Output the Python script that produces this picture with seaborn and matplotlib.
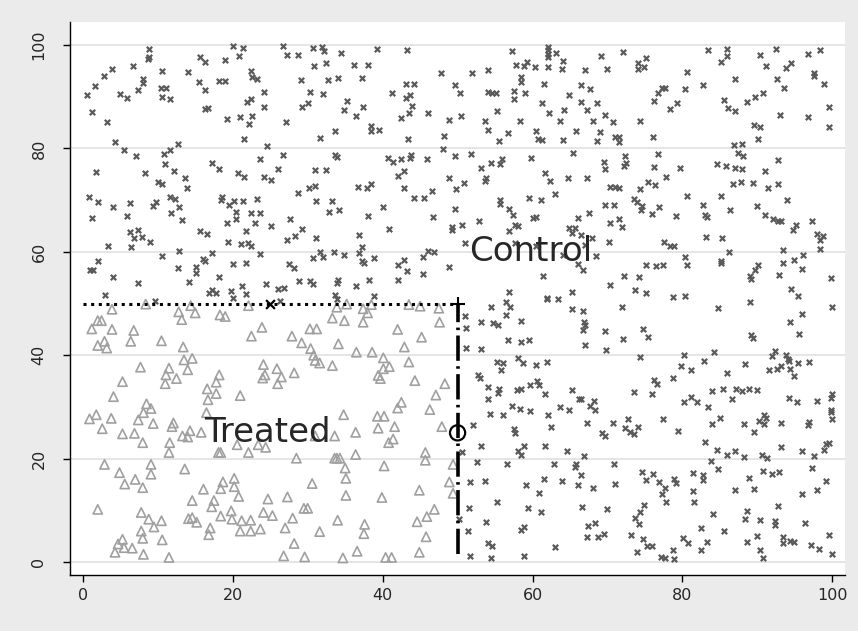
import pandas as pd
import matplotlib
matplotlib.use("Agg")
import matplotlib.pyplot as plt
import seaborn as sns

# control units (x markers)
control_pts = [
    (8.8,99.2),(8.9,97.7),(8.7,97.3),(20.1,99.8),(21.4,99.4),(20.8,97.9),(15.7,97.7),(16.3,96.8),(19.0,97.2),(3.9,95.4),
    (6.7,95.9),(2.8,94.0),(10.6,95.0),(14.1,94.7),(22.4,95.0),(22.6,93.9),(23.3,93.4),(1.6,92.0),(0.6,90.4),(8.1,93.4),
    (8.0,92.6),(7.4,91.3),(5.0,90.6),(5.9,89.7),(10.5,91.6),(11.1,91.7),(10.6,90.0),(11.7,89.6),(15.5,92.8),(16.3,91.3),
    (18.2,93.0),(19.0,93.0),(24.2,90.9),(22.5,89.6),(21.9,88.9),(24.2,88.1),(1.2,87.1),(3.2,85.2),(16.3,87.6),(16.7,87.9),
    (19.2,85.6),(21.0,86.0),(22.6,86.3),(22.2,84.7),(21.5,81.8),(4.3,81.2),(5.5,79.7),(7.1,78.5),(10.8,79.0),(11.7,79.7),
    (12.7,80.8),(24.6,80.5),(23.6,77.9),(1.7,75.4),(8.3,75.2),(11.0,77.0),(12.2,75.7),(17.3,77.1),(18.2,76.1),(20.7,75.2),
    (21.5,74.5),(24.2,74.4),(10.0,73.6),(10.6,73.1),(13.7,74.3),(13.9,72.3),(0.8,70.6),(2.1,69.6),(4.1,68.7),(6.3,69.4),
    (9.4,68.9),(9.8,69.6),(11.6,70.7),(12.3,70.3),(12.8,68.7),(11.8,67.6),(18.6,70.7),(18.5,70.0),(19.5,69.0),(20.2,69.8),
    (21.4,69.9),(23.3,70.3),(20.4,67.8),(22.4,67.6),(23.6,67.6),
    (26.7,99.8),(27.3,98.0),(28.7,98.0),(30.7,99.4),(31.9,99.7),(32.2,98.8),(34.5,98.5),(39.3,99.2),(43.2,99.0),(30.8,96.0),
    (32.4,96.6),(36.2,96.2),(38.1,96.2),(47.8,94.5),(29.1,93.2),(32.7,93.2),(34.0,93.6),(37.3,93.7),(43.1,92.4),(44.2,92.4),
    (49.6,92.2),(30.3,90.9),(32.0,90.5),(41.2,90.8),(43.6,90.3),(43.1,89.8),(29.2,88.1),(30.0,88.8),(35.2,89.1),(34.9,87.4),
    (37.4,88.0),(43.9,88.2),(43.5,86.8),(42.5,85.8),(46.1,86.8),(36.5,86.2),(48.8,85.5),(27.1,85.1),(38.5,84.4),(38.5,83.3),
    (39.5,83.6),(33.6,83.3),(31.7,82.1),(43.4,81.9),(48.2,82.4),(48.1,79.8),(26.7,78.7),(33.6,78.8),(33.9,78.4),(40.7,78.1),
    (41.4,77.3),(42.5,77.9),(43.6,78.2),(43.8,78.7),(45.9,77.9),(49.7,78.5),(26.0,76.1),(25.1,73.9),(31.0,75.8),(32.5,75.8),
    (42.8,75.6),(42.1,74.7),(48.8,74.2),(30.2,72.4),(31.0,72.7),(28.7,71.4),(36.7,72.6),(37.9,72.4),(38.5,73.2),(42.9,72.3),
    (44.2,70.5),(45.5,70.5),(46.6,71.8),(49.8,72.1),(31.1,69.9),(33.2,69.9),(32.9,67.8),(34.2,68.1),(40.0,68.7),(49.6,68.3),
    (57.3,98.9),(62.0,99.7),(62.0,99.0),(62.0,98.3),(62.0,97.7),(63.1,98.5),(69.1,97.9),(72.1,98.7),(75.1,97.5),(57.8,96.1),
    (58.8,95.9),(59.3,96.7),(60.3,95.8),(62.0,95.8),(64.0,96.9),(63.9,95.3),(67.0,95.2),(70.0,95.4),(74.1,96.5),(74.1,95.4),
    (74.9,95.7),(51.9,94.5),(54.1,95.2),(58.4,93.9),(58.4,92.8),(50.3,90.8),(54.1,91.0),(54.6,90.8),(55.1,90.8),(57.5,91.2),
    (57.5,89.6),(59.0,90.8),(61.5,92.4),(66.5,92.3),(67.7,91.4),(64.8,90.3),(61.2,88.8),(66.4,88.9),(68.6,88.8),(67.3,87.4),
    (69.7,86.5),(70.8,85.2),(74.3,85.4),(50.5,86.3),(53.6,85.4),(55.3,87.2),(58.3,85.4),(62.2,86.8),(64.2,87.4),(63.7,85.4),
    (68.1,85.4),(54.1,83.6),(56.7,82.9),(55.5,81.5),(60.5,83.4),(60.7,81.8),(61.2,81.7),(64.0,81.7),(65.8,83.4),(69.0,83.2),
    (68.6,81.5),(71.0,82.3),(71.6,82.3),(71.5,81.3),(51.8,79.0),(65.4,79.2),(72.3,78.5),(55.9,77.9),(55.6,77.0),(54.5,77.2),
    (53.1,76.3),(59.8,78.1),(69.5,77.3),(69.7,76.1),(72.5,77.2),(72.2,76.6),(61.6,75.2),(62.3,73.7),(64.7,74.2),(67.2,74.3),
    (53.8,74.3),(53.7,73.7),(50.8,73.4),(70.4,72.6),(71.0,72.6),(71.6,72.4),(74.4,72.1),(75.4,73.6),(55.6,70.1),(55.7,69.2),
    (59.5,70.5),(61.1,70.0),(63.0,71.2),(56.9,68.2),(69.7,69.0),(70.9,69.0),(73.6,70.2),(73.9,69.7),(74.6,68.9),(74.5,68.1),
    (67.5,67.6),
    (83.4,99.0),(85.9,99.2),(86.0,97.9),(85.2,96.7),(90.3,98.1),(92.5,99.3),(96.8,98.3),(98.3,99.0),(91.1,95.9),(93.8,95.6),
    (94.5,96.6),(80.6,94.8),(97.5,94.5),(97.5,94.0),(98.9,92.5),(87.0,93.4),(92.6,93.4),(93.6,91.7),(82.7,92.3),(80.3,91.5),
    (76.7,90.8),(77.3,91.7),(77.7,91.7),(76.2,89.1),(79.3,88.8),(78.4,87.6),(85.6,89.3),(86.1,87.8),(87.0,87.2),(88.6,89.0),
    (89.7,90.0),(90.7,90.8),(93.0,86.5),(96.7,86.1),(99.6,88.1),(99.6,84.1),(89.5,84.5),(90.4,84.2),(90.1,81.8),(76.1,82.3),
    (86.9,80.6),(88.0,80.8),(76.7,78.9),(87.4,79.2),(88.1,78.5),(92.7,77.7),(76.2,76.4),(79.7,76.2),(84.6,76.9),(85.8,76.7),
    (87.0,76.3),(88.0,76.1),(91.0,75.6),(76.4,73.0),(77.8,74.4),(86.8,73.1),(87.8,73.5),(89.4,73.4),(91.4,72.4),(92.7,73.2),
    (80.6,70.8),(85.1,70.8),(93.9,70.0),(76.9,68.7),(82.8,69.0),(86.4,68.1),(90.0,68.9),(75.9,67.3),(83.0,67.2),(91.0,67.2),
    (1.2,66.6),(5.9,67.0),(13.3,66.2),(19.2,65.6),(20.4,66.4),(23.0,65.6),(6.3,63.8),(7.4,64.3),(6.9,62.6),(7.9,62.8),
    (9.0,61.9),(6.4,60.9),(3.4,61.2),(15.7,64.1),(16.6,63.4),(19.4,62.0),(21.1,61.6),(22.0,61.8),(22.5,61.1),(21.8,64.1),
    (10.6,59.2),(12.8,60.1),(17.2,59.8),(16.1,58.7),(16.3,58.3),(20.1,57.7),(21.8,57.8),(23.6,59.6),(2.1,58.3),(0.9,56.5),
    (1.4,56.5),(4.1,55.1),(7.4,54.0),(12.7,56.9),(15.1,57.1),(15.1,56.0),(18.2,55.1),(14.2,54.2),(21.2,53.4),(24.4,53.8),
    (3.0,51.6),(17.2,52.7),(16.9,52.0),(17.8,52.1),(19.8,52.4),(20.0,51.1),(21.8,51.8),(9.7,50.5),
    (27.6,66.4),(38.0,66.9),(46.7,66.7),(25.1,65.0),(29.2,64.5),(28.3,63.0),(27.2,62.2),(31.1,62.6),(36.8,63.2),(37.3,61.0),
    (40.9,64.5),(49.2,64.8),(49.2,64.3),(30.7,58.9),(31.6,59.9),(32.1,59.1),(33.5,60.0),(34.8,59.4),(36.8,59.7),(37.2,58.2),
    (37.5,57.8),(38.8,58.9),(42.8,58.5),(42.0,57.4),(43.3,56.3),(45.4,59.1),(46.0,60.2),(46.8,59.9),(45.4,55.8),(48.8,57.1),
    (27.5,57.6),(28.2,56.9),(28.9,54.4),(30.3,54.4),(30.7,53.8),(34.0,54.5),(33.9,54.0),(36.4,53.4),(38.2,54.6),(42.0,54.6),
    (26.1,52.9),(26.9,53.0),(33.6,51.6),(33.9,50.8),(38.9,51.4),(26.3,50.4),
    (57.4,67.1),(60.1,66.5),(60.5,66.7),(66.0,66.5),(71.5,66.4),(70.4,65.6),(72.0,64.8),(50.6,65.1),(52.9,65.9),(56.9,64.0),
    (57.7,65.2),(58.0,65.0),(64.8,64.6),(65.7,64.6),(65.3,63.7),(66.5,63.3),(51.0,61.8),(57.6,61.8),(60.4,61.2),(67.0,61.4),
    (67.9,62.7),(70.2,61.9),(64.0,59.3),(68.4,59.2),(66.1,57.7),(66.7,56.4),(61.4,55.3),(75.1,57.4),(72.2,55.4),(74.2,55.1),
    (70.4,53.5),(73.7,52.6),(75.2,52.0),(56.9,52.2),(65.3,52.2),(61.9,51.1),(61.9,50.8),(63.4,50.8),(56.4,50.3),(57.0,49.3),
    (54.4,49.3),(56.4,47.8),(65.2,48.9),(66.7,48.5),(71.9,49.3),(51.0,47.5),(51.1,45.3),(53.1,46.4),(54.7,46.2),(55.4,45.8),
    (58.5,46.6),(66.8,46.5),(67.0,45.8),(66.7,44.9),(69.7,44.6),(74.8,45.1),(75.4,43.6),(56.7,43.0),(58.4,42.5),(59.5,42.9),
    (72.1,43.1),(51.1,41.4),(53.1,41.3),(67.0,42.0),(69.8,41.1),(74.4,39.6),(55.2,38.7),(56.0,38.5),(55.8,37.1),(58.0,39.5),
    (58.7,38.5),(60.5,38.2),(61.9,38.7),(52.7,36.2),(53.0,35.6),(60.6,35.1),(60.8,34.3),(59.7,34.2),
    (79.1,66.9),(83.3,66.8),(92.1,66.4),(92.8,66.0),(93.1,66.0),(94.8,64.3),(95.2,65.2),(97.3,66.0),(97.9,63.5),(98.8,63.1),
    (98.3,62.2),(98.3,60.5),(77.5,62.0),(78.3,61.1),(78.9,61.1),(83.2,62.8),(85.3,62.6),(86.2,60.0),(80.4,59.1),(80.6,57.5),
    (85.1,58.3),(85.1,57.9),(76.5,57.2),(77.4,57.5),(93.4,60.3),(93.4,57.8),(94.9,58.5),(96.1,59.4),(95.9,56.6),(92.9,55.5),
    (90.1,57.4),(89.7,56.4),(89.0,55.4),(89.2,54.7),(99.8,54.9),(94.5,52.9),(95.4,51.4),(95.9,48.0),(99.9,49.3),(78.8,51.2),
    (80.4,51.4),(89.0,50.3),(84.7,49.1),(94.3,46.4),(95.5,44.2),(89.2,44.0),(89.4,43.4),(80.2,40.1),(84.2,40.6),(82.9,38.9),
    (79.8,37.9),(81.2,37.1),(88.3,38.3),(85.9,36.5),(92.3,40.8),(91.9,39.8),(93.8,40.1),(94.1,39.3),(94.2,38.8),(95.4,38.5),
    (96.9,38.7),(93.1,37.9),(92.6,37.3),(91.6,37.1),(94.3,37.4),(94.9,35.9),(78.7,35.7),(76.2,35.3),(76.6,34.4),
    (54.1,33.8),(55.5,33.5),(55.4,32.8),(57.9,33.3),(58.4,33.5),(61.7,32.6),(65.2,33.3),(54.1,31.5),(66.2,31.6),(66.5,31.5),
    (68.2,31.2),(67.7,30.2),(68.3,29.4),(73.5,32.9),(57.2,30.2),(58.3,29.6),(59.7,29.3),(63.6,29.9),(64.8,29.5),(54.3,28.6),
    (56.0,28.5),(62.0,28.4),(52.1,26.5),(57.5,25.8),(57.6,24.9),(62.4,26.2),(67.2,26.9),(70.7,26.9),(72.8,27.7),(72.4,25.9),
    (73.0,25.2),(73.5,24.8),(74.1,26.2),(69.3,24.9),(69.7,24.4),(53.1,22.5),(50.6,21.2),(58.1,21.5),(58.4,20.8),(58.9,22.4),
    (61.6,22.4),(64.6,21.4),(66.9,20.5),(52.6,19.3),(56.6,18.9),(62.9,18.9),(65.8,18.9),(65.7,18.4),(70.9,18.9),(74.6,17.5),
    (75.1,15.9),(66.5,16.8),(66.0,14.9),(68.1,14.4),(71.0,15.1),(51.7,15.5),(53.7,15.6),(59.1,15.0),(61.5,16.1),(63.9,15.7),
    (60.9,13.3),(55.2,11.7),(51.5,10.4),(59.4,10.4),(61.1,9.7),(66.6,10.7),(69.9,10.2),(74.9,11.1),(74.4,9.6),(73.7,8.6),
    (74.2,7.3),(50.2,8.3),(53.8,7.7),(51.4,6.0),(58.5,6.3),(58.9,6.7),(67.4,7.0),(68.3,7.5),(67.2,4.8),(68.7,4.8),
    (69.6,5.5),(73.1,5.3),(74.8,4.4),(75.3,3.1),(54.0,3.6),(54.6,3.1),(63.0,3.0),(74.0,2.0),(51.6,1.1),(54.5,0.7),(58.8,1.2),
    (85.4,33.5),(87.1,33.5),(87.9,33.1),(88.9,33.5),(90.0,33.3),(83.9,33.0),(76.0,32.6),(80.2,30.9),(81.2,32.0),(82.0,30.9),
    (83.4,29.9),(86.6,31.5),(94.2,31.8),(95.3,30.9),(98.0,31.1),(99.8,31.7),(100.0,32.6),(99.8,29.4),(99.8,29.1),(100.0,27.6),
    (77.4,27.7),(79.4,25.3),(83.9,26.7),(85.0,27.8),(88.2,26.8),(90.2,27.2),(90.9,28.5),(91.2,27.9),(90.9,26.8),(89.6,25.1),
    (93.1,26.9),(96.7,26.6),(96.9,27.0),(83.0,23.3),(84.6,21.7),(86.0,20.8),(87.0,21.4),(88.2,20.4),(90.6,20.7),(91.3,20.1),
    (93.1,22.2),(96.0,21.5),(97.6,20.6),(98.9,21.6),(99.2,22.8),(99.6,23.0),(83.8,19.5),(84.8,18.0),(76.1,17.1),(76.9,15.5),
    (77.7,14.3),(77.3,13.1),(77.8,11.7),(78.9,16.1),(79.1,15.3),(81.4,17.3),(82.7,16.8),(82.7,15.9),(81.4,13.7),(81.5,11.7),
    (88.9,16.2),(87.0,13.9),(89.5,14.2),(90.8,17.6),(91.9,17.0),(92.9,17.4),(97.3,18.2),(99.2,15.7),(97.9,13.9),(96.0,13.2),
    (84.1,9.3),(88.6,9.8),(88.4,8.4),(90.4,8.2),(92.4,7.9),(92.4,7.2),(92.7,10.9),(96.4,7.5),(82.5,6.5),(85.5,6.1),
    (80.1,4.7),(80.8,3.6),(83.3,3.9),(82.5,2.4),(78.8,2.4),(88.6,3.9),(89.9,5.1),(93.4,4.9),(93.4,3.6),(94.4,4.1),
    (94.9,3.9),(97.1,3.3),(98.2,2.5),(99.6,5.3),(100.0,1.6),(75.9,3.1),(77.2,0.9),(77.7,0.8),(78.9,0.6),(90.3,2.4),(90.7,0.7),
]

# treated units (hollow triangles): x < 50 and y < 50
treated_pts = [
    (3.9,48.9),(8.4,49.9),(14.4,49.6),(12.8,48.4),(15.0,48.2),(13.2,46.9),(18.3,47.8),(19.0,47.5),(22.1,49.6),(2.0,46.7),
    (2.5,46.7),(1.2,45.1),(3.9,45.0),(6.8,44.8),(23.9,45.4),(22.5,43.7),(6.4,42.7),(10.5,42.8),(2.9,42.7),(2.0,41.9),
    (3.2,41.4),(13.4,41.6),(13.5,39.1),(14.6,39.4),(14.0,37.2),(7.7,37.7),(11.5,37.5),(11.1,36.2),(12.5,35.5),(5.3,34.9),
    (11.0,34.5),(18.2,36.2),(17.8,34.8),(24.1,38.2),(24.3,36.2),(24.0,35.6),
    (33.9,49.3),(35.2,49.9),(37.4,49.0),(38.5,49.8),(38.0,48.2),(33.3,47.2),(34.9,46.7),(37.4,46.4),(43.5,49.8),(45.0,49.5),
    (47.5,49.1),(47.6,46.4),(42.0,45.0),(45.2,43.5),(30.3,45.1),(31.2,45.1),(27.9,43.7),(29.2,42.4),(30.4,41.3),(30.8,40.0),
    (31.0,39.0),(31.6,38.5),(34.1,42.2),(36.5,40.6),(38.6,40.6),(40.1,39.5),(42.9,41.6),(43.5,38.7),(33.3,38.0),(28.2,36.6),
    (25.9,37.4),(26.5,35.8),(26.0,34.5),(40.1,37.4),(40.9,37.8),(39.4,36.1),(39.7,35.5),(44.3,35.1),(48.3,34.5),
    (4.1,32.0),(16.6,33.5),(17.8,32.6),(16.7,31.4),(21.0,32.2),(8.5,30.6),(9.1,29.7),(8.1,28.9),(7.4,27.5),(9.4,26.8),
    (1.8,28.5),(0.9,27.7),(3.8,27.8),(2.6,25.8),(5.3,24.8),(6.9,24.9),(8.0,23.1),(12.1,26.9),(11.9,26.2),(13.3,24.4),
    (14.3,25.4),(14.0,24.2),(15.8,25.1),(16.5,28.9),(11.6,23.1),(11.5,21.2),(18.1,21.2),(18.4,21.2),(20.6,22.7),(22.1,21.2),
    (23.4,22.7),(24.4,22.2),(2.9,18.9),(4.9,17.3),(5.6,15.1),(7.0,16.0),(8.0,14.4),(9.1,18.9),(9.1,17.0),(13.6,18.0),
    (2.0,10.2),(16.1,14.1),(18.4,14.2),(18.7,15.5),(20.2,16.2),(20.2,14.6),(20.8,12.7),(14.6,11.9),(17.5,11.9),(17.2,10.7),
    (24.7,12.2),(18.4,8.9),(19.8,9.9),(19.9,8.3),(21.2,8.0),(22.4,8.1),(21.0,6.0),(22.4,6.0),(23.7,6.4),(24.1,9.6),
    (7.8,9.6),(8.8,8.3),(9.5,6.8),(10.5,8.0),(7.8,6.0),(8.0,4.6),(10.6,4.3),(14.1,8.4),(14.6,8.6),(15.2,7.7),
    (17.0,6.6),(16.8,5.3),(5.3,4.4),(4.7,3.5),(5.5,2.8),(6.6,2.7),(4.3,1.9),(8.1,1.5),(11.5,0.9),
    (47.1,32.3),(42.5,30.9),(42.0,29.8),(46.3,29.5),(34.8,28.5),(39.3,28.2),(40.2,28.2),(39.4,25.9),(41.6,26.2),(36.4,25.1),
    (40.8,23.1),(41.4,23.8),(47.9,26.2),(31.0,24.4),(33.6,24.4),(28.5,20.1),(33.6,20.1),(33.9,20.1),(34.3,20.1),(35.0,18.2),
    (36.4,20.8),(35.1,16.2),(40.2,18.6),(45.7,21.2),(45.7,19.7),(49.4,18.9),(48.9,15.5),(49.4,13.3),(30.6,15.2),(27.3,12.6),
    (35.1,12.9),(39.9,12.5),(44.9,13.9),(46.9,10.2),(45.9,8.8),(44.6,7.8),(25.3,9.0),(29.5,10.4),(30.0,10.4),(28.0,8.5),
    (27.0,6.6),(31.6,5.9),(34.0,8.1),(37.6,7.3),(37.5,5.5),(28.2,3.6),(26.8,1.2),(29.6,1.0),(34.7,0.8),(36.6,2.1),
    (40.4,0.9),(41.2,0.9),(44.9,1.9),(45.8,4.9),
]

# cutoffs and reference markers
cutoff_x = 50
cutoff_y = 50
mid_marker = (25, 50)
circle_marker = (50, 25)
ticks = [0, 20, 40, 60, 80, 100]

control = pd.DataFrame(control_pts, columns=["x", "y"])
treated = pd.DataFrame(treated_pts, columns=["x", "y"])

sns.set_style("white")
plt.rcParams["font.family"] = ["DejaVu Sans"]

fig = plt.figure(figsize=(8.58, 6.31), dpi=100, facecolor="#ebebeb")
ax = fig.add_axes([0.0816, 0.0887, 0.9034, 0.876])
ax.set_facecolor("white")

for t in ticks:
    ax.axhline(t, color="#e3e3e3", lw=1.3, zorder=0)

sns.scatterplot(data=control, x="x", y="y", marker="x", color="#5a5a5a",
                s=15, linewidth=1.6, ax=ax, zorder=3)
sns.scatterplot(data=treated, x="x", y="y", marker="^", color="#a0a0a0",
                facecolor="none", edgecolor="#a0a0a0", s=44, linewidth=1.2,
                ax=ax, zorder=3)

# dotted horizontal cutoff and dash-dot vertical cutoff
ax.plot([0, cutoff_x], [cutoff_y, cutoff_y], color="black", lw=2.2,
        linestyle=(0, (1, 1.5)), zorder=4)
ax.plot([cutoff_x, cutoff_x], [1.5, cutoff_y], color="black", lw=2.6,
        linestyle=(0, (7, 1.5, 0.7, 1.5)), zorder=4)
ax.scatter([cutoff_x], [cutoff_y], marker="+", color="black",
           s=110, linewidths=1.5, zorder=5)
ax.scatter([mid_marker[0]], [mid_marker[1]], marker="x", color="black",
           s=40, linewidths=1.6, zorder=5)
ax.scatter([circle_marker[0]], [circle_marker[1]], marker="o", facecolor="none",
           edgecolor="black", s=120, linewidths=1.6, zorder=5)

ax.text(51.5, 60, "Control", fontsize=24.5, ha="left", va="center", zorder=6)
ax.text(16.2, 25, "Treated", fontsize=24.5, ha="left", va="center", zorder=6)

ax.set_xlim(-1.7, 101.7)
ax.set_ylim(-2.5, 104.4)
ax.set_xticks(ticks)
ax.set_yticks(ticks)
ax.set_xlabel("")
ax.set_ylabel("")
for s in ["top", "right"]:
    ax.spines[s].set_visible(False)
for s in ["left", "bottom"]:
    ax.spines[s].set_color("black")
    ax.spines[s].set_linewidth(1.0)
ax.tick_params(axis="both", direction="out", length=5, width=1, color="black",
               labelsize=11.5, left=True, bottom=True)
ax.tick_params(axis="x", pad=4)
ax.tick_params(axis="y", pad=12)
for lab in ax.get_yticklabels():
    lab.set_rotation(90)
    lab.set_va("center")

fig.savefig("out.png", dpi=100, facecolor=fig.get_facecolor())
